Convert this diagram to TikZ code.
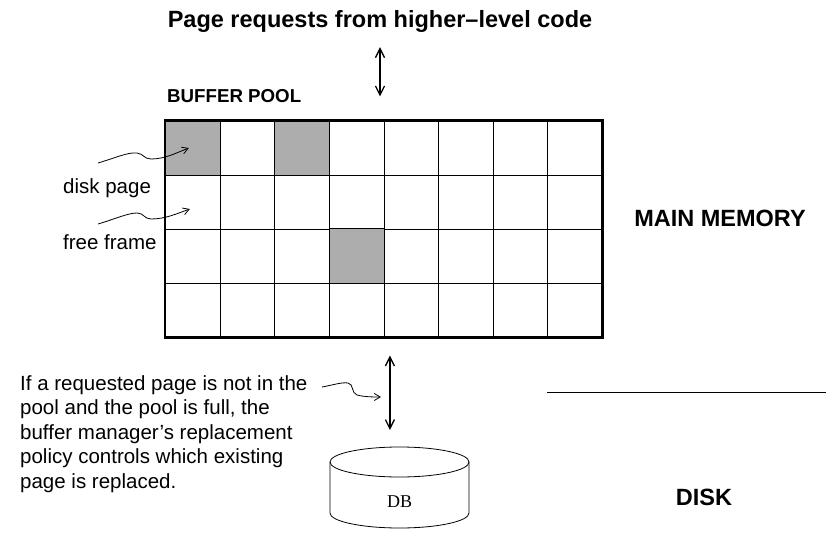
\documentclass[tikz,border=0pt]{standalone}
\usepackage{fontspec}
\setmainfont{Liberation Sans}
\newfontfamily\dbserif{Liberation Serif}
\usetikzlibrary{positioning,arrows.meta,fit}

\begin{document}
\begin{tikzpicture}[
      x=1pt, y=1pt,
      cell/.style={draw, line width=0.7pt, minimum width=54.6pt,
                   minimum height=54pt, inner sep=0pt},
      used/.style={draw, line width=0.7pt, fill=black!32},
      head/.style={font=\bfseries\fontsize{23.5}{28}\selectfont, inner sep=0pt},
      txt/.style={font=\fontsize{20.5}{24.5}\selectfont, inner sep=0pt, align=left},
      dbl/.style={{Straight Barb[length=9pt,width=9pt]}-{Straight Barb[length=9pt,width=9pt]},
                  line width=1.3pt},
      wiggle/.style={-{Straight Barb[length=6pt,width=7pt]}, line width=0.8pt}
    ]
    \useasboundingbox (0,0) rectangle (826,533);
    \node[head, anchor=base] (req) at (380,505) {Page requests from higher--level code};
    \node[font=\bfseries\fontsize{18.7}{22}\selectfont, inner sep=0pt, anchor=base west]
      (bp) at (167,430) {BUFFER POOL};
    % frames of the pool, 8 x 4
    \foreach \c in {0,...,7}
      \foreach \r in {0,...,3}
        \node[cell] (c\c\r) at (192.8+54.6*\c, 385-54*\r) {};
    \foreach \f in {c00,c20,c32}
      \draw[used] (\f.south west) rectangle (\f.north east);
    \node[fit=(c00)(c73), draw, line width=2.4pt, inner sep=0pt] (pool) {};
    \node[txt, anchor=base west] (dpage) at (63,339) {disk page};
    \node[txt, anchor=base west] (ffree) at (63,283) {free frame};
    \coordinate (dp0) at (98,370);
    \coordinate (ff0) at (98,309);
    \draw[wiggle] (dp0) .. controls (115,375) and (128,381) .. (137,380)
      .. controls (144,379) and (144,374) .. (151,374)
      .. controls (165,374) and (176,380) .. ([xshift=-4pt]c00.center);
    \draw[wiggle] (ff0) .. controls (115,314) and (128,320) .. (137,320)
      .. controls (144,320) and (144,314) .. (151,314)
      .. controls (165,314) and (176,319) .. ([shift={(-3pt,-7pt)}]c01.center);
    \node[head, anchor=base] (mm) at (720,306) {MAIN MEMORY};
    \node[head, anchor=base] (dk) at (704,28) {DISK};
    \draw[line width=1pt] (547,141) -- (826,141);
    % disk
    \node[font=\dbserif\fontsize{18}{20}\selectfont, inner sep=0pt] (db) at (399.5,31) {DB};
    \coordinate (dbtop) at (399.5,86);
    \draw[line width=0.8pt] (330,71) -- (330,20)
      arc[start angle=180, end angle=360, x radius=69.5, y radius=15] -- (469,71);
    \draw[line width=0.8pt] (399.5,71) ellipse [x radius=69.5, y radius=15];
    \draw[dbl, shorten <=14pt, shorten >=23pt] (req.south) -- (req.south |- pool.north);
    \draw[dbl, shorten <=17pt, shorten >=17pt] ([xshift=6pt]pool.south) -- ([xshift=6pt]pool.south |- dbtop);
    \node[txt, anchor=north west] (note) at (20,158)
      {If a requested page is not in the\\pool and the pool is full, the\\
       buffer manager’s replacement\\policy controls which existing\\page is replaced.};
    \coordinate (nt0) at (322,146);
    \draw[wiggle] (nt0) .. controls (333,148) and (342,151) .. (348,150)
      .. controls (354,149) and (351,140) .. (357,138)
      .. controls (365,136) and (372,136) .. (381,136);
  \end{tikzpicture}
\end{document}
